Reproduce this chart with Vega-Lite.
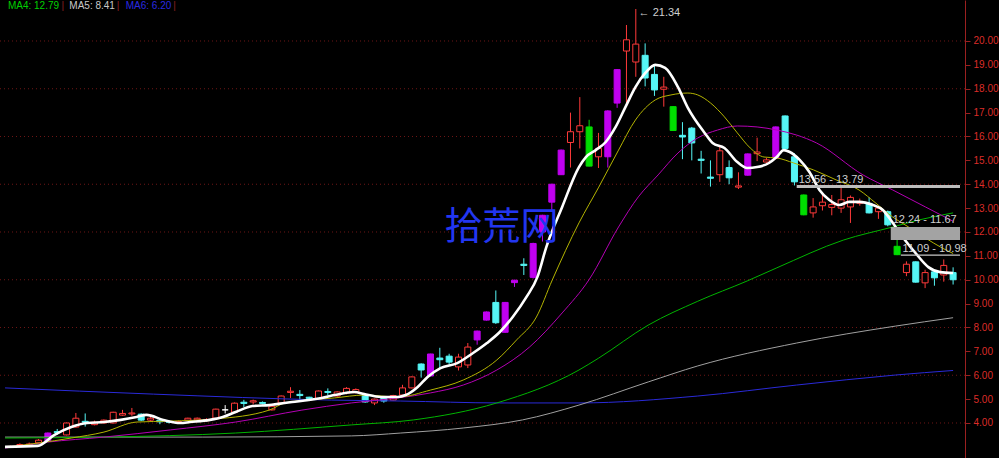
{
"$schema": "https://vega.github.io/schema/vega-lite/v6.json",
"width": 965, "height": 458,
"autosize": {"type": "none"},
"padding": {"left": 0, "top": 0, "right": 34, "bottom": 0},
"background": "#000000",
"config": {"view": {"stroke": null}},
"resolve": {"scale": {"color": "independent"}},
"datasets": {
"candles": [
{"d":0,"o":3.0,"c":3.02,"h":3.05,"l":2.98,"t":"u"},
{"d":1,"o":3.05,"c":3.1,"h":3.15,"l":3.02,"t":"u"},
{"d":2,"o":3.08,"c":3.12,"h":3.18,"l":3.05,"t":"u"},
{"d":3,"o":3.17,"c":3.28,"h":3.33,"l":3.15,"t":"u"},
{"d":4,"o":3.25,"c":3.58,"h":3.6,"l":3.24,"t":"p"},
{"d":5,"o":3.64,"c":3.6,"h":3.75,"l":3.5,"t":"d"},
{"d":6,"o":3.5,"c":4.0,"h":4.02,"l":3.48,"t":"u"},
{"d":7,"o":3.83,"c":4.2,"h":4.42,"l":3.8,"t":"u"},
{"d":8,"o":4.07,"c":4.03,"h":4.4,"l":3.85,"t":"d"},
{"d":9,"o":3.93,"c":4.03,"h":4.1,"l":3.9,"t":"u"},
{"d":10,"o":4.0,"c":4.12,"h":4.15,"l":3.98,"t":"u"},
{"d":11,"o":4.0,"c":4.45,"h":4.47,"l":3.98,"t":"u"},
{"d":12,"o":4.33,"c":4.4,"h":4.55,"l":4.3,"t":"u"},
{"d":13,"o":4.38,"c":4.42,"h":4.63,"l":4.3,"t":"u"},
{"d":14,"o":4.37,"c":4.12,"h":4.4,"l":4.08,"t":"d"},
{"d":15,"o":4.12,"c":4.2,"h":4.25,"l":4.08,"t":"u"},
{"d":16,"o":4.12,"c":4.05,"h":4.2,"l":3.95,"t":"d"},
{"d":17,"o":4.06,"c":4.03,"h":4.1,"l":3.98,"t":"d"},
{"d":18,"o":4.03,"c":4.06,"h":4.1,"l":4.0,"t":"u"},
{"d":19,"o":4.12,"c":4.2,"h":4.22,"l":4.1,"t":"u"},
{"d":20,"o":4.13,"c":4.2,"h":4.23,"l":4.1,"t":"u"},
{"d":21,"o":4.1,"c":4.15,"h":4.2,"l":4.05,"t":"u"},
{"d":22,"o":4.2,"c":4.58,"h":4.6,"l":4.18,"t":"u"},
{"d":23,"o":4.55,"c":4.55,"h":4.75,"l":4.4,"t":"w"},
{"d":24,"o":4.45,"c":4.83,"h":4.86,"l":4.43,"t":"u"},
{"d":25,"o":4.87,"c":4.82,"h":4.97,"l":4.67,"t":"d"},
{"d":26,"o":4.88,"c":4.93,"h":4.98,"l":4.78,"t":"u"},
{"d":27,"o":4.86,"c":4.82,"h":4.9,"l":4.78,"t":"d"},
{"d":28,"o":4.55,"c":4.7,"h":4.73,"l":4.52,"t":"u"},
{"d":29,"o":4.84,"c":5.13,"h":5.15,"l":4.8,"t":"u"},
{"d":30,"o":5.28,"c":5.33,"h":5.5,"l":5.05,"t":"u"},
{"d":31,"o":5.2,"c":5.15,"h":5.38,"l":4.9,"t":"d"},
{"d":32,"o":5.08,"c":5.03,"h":5.1,"l":4.98,"t":"d"},
{"d":33,"o":5.0,"c":5.34,"h":5.36,"l":4.98,"t":"u"},
{"d":34,"o":5.32,"c":5.28,"h":5.45,"l":5.15,"t":"d"},
{"d":35,"o":5.13,"c":5.3,"h":5.33,"l":5.1,"t":"u"},
{"d":36,"o":5.25,"c":5.45,"h":5.5,"l":5.2,"t":"u"},
{"d":37,"o":5.27,"c":5.4,"h":5.45,"l":5.25,"t":"u"},
{"d":38,"o":5.17,"c":4.88,"h":5.2,"l":4.85,"t":"d"},
{"d":39,"o":4.84,"c":5.0,"h":5.02,"l":4.75,"t":"u"},
{"d":40,"o":5.08,"c":4.92,"h":5.1,"l":4.85,"t":"d"},
{"d":41,"o":4.96,"c":5.15,"h":5.18,"l":4.94,"t":"u"},
{"d":42,"o":5.17,"c":5.47,"h":5.6,"l":5.15,"t":"u"},
{"d":43,"o":5.47,"c":5.93,"h":5.95,"l":5.45,"t":"u"},
{"d":44,"o":6.47,"c":6.22,"h":6.5,"l":5.9,"t":"d"},
{"d":45,"o":5.97,"c":6.89,"h":6.9,"l":5.95,"t":"p"},
{"d":46,"o":6.72,"c":6.65,"h":7.15,"l":6.3,"t":"d"},
{"d":47,"o":6.8,"c":6.55,"h":6.9,"l":6.45,"t":"d"},
{"d":48,"o":6.35,"c":6.76,"h":6.9,"l":6.2,"t":"u"},
{"d":49,"o":6.43,"c":7.18,"h":7.35,"l":6.3,"t":"u"},
{"d":50,"o":7.48,"c":7.85,"h":7.87,"l":7.28,"t":"p"},
{"d":51,"o":8.31,"c":8.65,"h":8.67,"l":8.29,"t":"p"},
{"d":52,"o":9.05,"c":8.2,"h":9.55,"l":8.15,"t":"d"},
{"d":53,"o":7.8,"c":9.05,"h":9.07,"l":7.78,"t":"p"},
{"d":54,"o":9.88,"c":9.98,"h":10.0,"l":9.7,"t":"p"},
{"d":55,"o":10.65,"c":10.6,"h":10.9,"l":10.2,"t":"d"},
{"d":56,"o":10.1,"c":11.52,"h":11.55,"l":10.05,"t":"p"},
{"d":57,"o":12.0,"c":12.7,"h":12.72,"l":11.6,"t":"p"},
{"d":58,"o":13.25,"c":14.0,"h":14.02,"l":12.9,"t":"p"},
{"d":59,"o":14.4,"c":15.43,"h":15.45,"l":14.4,"t":"p"},
{"d":60,"o":15.75,"c":16.2,"h":17.0,"l":14.7,"t":"u"},
{"d":61,"o":16.2,"c":16.45,"h":17.65,"l":15.5,"t":"u"},
{"d":62,"o":16.4,"c":14.76,"h":16.7,"l":14.75,"t":"g"},
{"d":63,"o":15.15,"c":15.5,"h":16.15,"l":14.68,"t":"u"},
{"d":64,"o":15.15,"c":17.07,"h":17.1,"l":14.7,"t":"p"},
{"d":65,"o":17.4,"c":18.8,"h":18.82,"l":17.2,"t":"p"},
{"d":66,"o":19.58,"c":20.05,"h":20.67,"l":17.4,"t":"u"},
{"d":67,"o":19.12,"c":19.87,"h":21.34,"l":18.5,"t":"u"},
{"d":68,"o":19.4,"c":18.45,"h":19.9,"l":18.1,"t":"d"},
{"d":69,"o":18.6,"c":17.95,"h":19.0,"l":17.7,"t":"d"},
{"d":70,"o":17.98,"c":18.07,"h":18.5,"l":17.25,"t":"u"},
{"d":71,"o":17.25,"c":16.25,"h":17.27,"l":16.23,"t":"g"},
{"d":72,"o":16.05,"c":15.98,"h":16.6,"l":15.05,"t":"d"},
{"d":73,"o":16.35,"c":15.73,"h":16.4,"l":15.0,"t":"d"},
{"d":74,"o":15.05,"c":15.0,"h":15.4,"l":14.45,"t":"d"},
{"d":75,"o":14.3,"c":14.25,"h":15.0,"l":13.9,"t":"d"},
{"d":76,"o":14.4,"c":15.4,"h":15.6,"l":14.1,"t":"u"},
{"d":77,"o":14.7,"c":14.27,"h":15.0,"l":14.0,"t":"d"},
{"d":78,"o":13.88,"c":13.93,"h":14.5,"l":13.8,"t":"u"},
{"d":79,"o":14.38,"c":15.27,"h":15.29,"l":14.36,"t":"p"},
{"d":80,"o":15.28,"c":15.35,"h":15.95,"l":14.97,"t":"u"},
{"d":81,"o":14.93,"c":15.02,"h":15.1,"l":14.9,"t":"u"},
{"d":82,"o":15.1,"c":16.4,"h":16.42,"l":15.08,"t":"p"},
{"d":83,"o":16.86,"c":15.5,"h":16.88,"l":15.45,"t":"d"},
{"d":84,"o":15.15,"c":14.1,"h":15.3,"l":13.95,"t":"d"},
{"d":85,"o":13.55,"c":12.72,"h":13.57,"l":12.7,"t":"g"},
{"d":86,"o":12.8,"c":13.05,"h":13.42,"l":12.6,"t":"u"},
{"d":87,"o":13.1,"c":13.25,"h":13.65,"l":12.9,"t":"u"},
{"d":88,"o":13.03,"c":13.15,"h":13.55,"l":12.7,"t":"u"},
{"d":89,"o":13.0,"c":13.35,"h":13.85,"l":12.8,"t":"u"},
{"d":90,"o":13.05,"c":13.45,"h":13.53,"l":12.38,"t":"u"},
{"d":91,"o":13.2,"c":13.28,"h":13.4,"l":13.1,"t":"u"},
{"d":92,"o":13.2,"c":12.8,"h":13.45,"l":12.78,"t":"d"},
{"d":93,"o":12.85,"c":13.0,"h":13.1,"l":12.55,"t":"u"},
{"d":94,"o":12.85,"c":12.3,"h":12.9,"l":12.24,"t":"d"},
{"d":95,"o":11.4,"c":11.05,"h":11.67,"l":11.03,"t":"g"},
{"d":96,"o":10.3,"c":10.65,"h":10.77,"l":10.15,"t":"u"},
{"d":97,"o":10.75,"c":9.9,"h":10.77,"l":9.88,"t":"d"},
{"d":98,"o":9.87,"c":10.3,"h":10.42,"l":9.65,"t":"u"},
{"d":99,"o":10.33,"c":10.08,"h":10.35,"l":9.75,"t":"d"},
{"d":100,"o":10.2,"c":10.6,"h":10.85,"l":9.92,"t":"u"},
{"d":101,"o":10.3,"c":10.0,"h":10.52,"l":9.8,"t":"d"}
],
"ma": [
{"s":"b","d":-0.59,"v":5.47},{"s":"b","d":15.31,"v":5.21},{"s":"b","d":34.4,"v":4.96},{"s":"b","d":41.82,"v":4.92},{"s":"b","d":52.43,"v":4.84},{"s":"b","d":60.91,"v":4.84},{"s":"b","d":73.64,"v":5.13},{"s":"b","d":84.24,"v":5.59},{"s":"b","d":94.85,"v":6.01},{"s":"b","d":101.0,"v":6.2},
{"s":"gr","d":-0.59,"v":3.41},{"s":"gr","d":20.6,"v":3.41},{"s":"gr","d":36.52,"v":3.46},{"s":"gr","d":41.82,"v":3.58},{"s":"gr","d":48.51,"v":3.79},{"s":"gr","d":54.87,"v":4.13},{"s":"gr","d":60.91,"v":4.75},{"s":"gr","d":68.33,"v":5.72},{"s":"gr","d":73.64,"v":6.39},{"s":"gr","d":84.24,"v":7.35},{"s":"gr","d":94.85,"v":8.06},{"s":"gr","d":101.0,"v":8.41},
{"s":"g","d":-0.59,"v":3.37},{"s":"g","d":10.01,"v":3.41},{"s":"g","d":24.12,"v":3.58},{"s":"g","d":36.52,"v":3.92},{"s":"g","d":43.2,"v":4.13},{"s":"g","d":52.11,"v":4.84},{"s":"g","d":60.91,"v":6.22},{"s":"g","d":63.03,"v":6.72},{"s":"g","d":68.33,"v":8.1},{"s":"g","d":73.64,"v":9.1},{"s":"g","d":78.94,"v":9.95},{"s":"g","d":82.12,"v":10.5},{"s":"g","d":89.23,"v":11.66},{"s":"g","d":94.53,"v":12.21},{"s":"g","d":97.29,"v":12.5},{"s":"g","d":101.0,"v":12.8},
{"s":"m","d":-0.59,"v":2.95},{"s":"m","d":3.97,"v":3.2},{"s":"m","d":10.01,"v":3.41},{"s":"m","d":17.12,"v":3.71},{"s":"m","d":24.12,"v":4.04},{"s":"m","d":31.22,"v":4.54},{"s":"m","d":36.52,"v":4.84},{"s":"m","d":41.51,"v":5.05},{"s":"m","d":45.01,"v":5.26},{"s":"m","d":48.51,"v":5.59},{"s":"m","d":52.11,"v":6.22},{"s":"m","d":55.61,"v":7.18},{"s":"m","d":59.11,"v":8.61},{"s":"m","d":61.97,"v":9.99},{"s":"m","d":65.15,"v":12.21},{"s":"m","d":67.27,"v":13.47},{"s":"m","d":69.39,"v":14.39},{"s":"m","d":71.52,"v":15.31},{"s":"m","d":73.64,"v":15.94},{"s":"m","d":75.76,"v":16.27},{"s":"m","d":77.88,"v":16.44},{"s":"m","d":80.0,"v":16.4},{"s":"m","d":82.12,"v":16.27},{"s":"m","d":84.24,"v":16.06},{"s":"m","d":86.36,"v":15.73},{"s":"m","d":91.35,"v":14.39},{"s":"m","d":94.53,"v":13.76},{"s":"m","d":98.03,"v":13.05},{"s":"m","d":101.0,"v":12.45},
{"s":"y","d":-0.59,"v":2.98},{"s":"y","d":6.51,"v":3.37},{"s":"y","d":10.01,"v":3.62},{"s":"y","d":13.51,"v":4.04},{"s":"y","d":17.12,"v":4.08},{"s":"y","d":21.99,"v":4.17},{"s":"y","d":27.72,"v":4.54},{"s":"y","d":29.42,"v":4.84},{"s":"y","d":34.72,"v":5.05},{"s":"y","d":37.9,"v":5.17},{"s":"y","d":41.51,"v":5.09},{"s":"y","d":45.01,"v":5.38},{"s":"y","d":48.51,"v":5.8},{"s":"y","d":52.11,"v":6.64},{"s":"y","d":54.23,"v":7.48},{"s":"y","d":56.35,"v":8.44},{"s":"y","d":58.05,"v":9.99},{"s":"y","d":60.91,"v":12.38},{"s":"y","d":63.03,"v":13.88},{"s":"y","d":65.15,"v":15.43},{"s":"y","d":66.96,"v":16.69},{"s":"y","d":69.08,"v":17.53},{"s":"y","d":70.77,"v":17.74},{"s":"y","d":72.58,"v":17.82},{"s":"y","d":73.64,"v":17.74},{"s":"y","d":75.02,"v":17.4},{"s":"y","d":76.5,"v":16.82},{"s":"y","d":77.88,"v":16.15},{"s":"y","d":79.26,"v":15.52},{"s":"y","d":80.74,"v":15.14},{"s":"y","d":82.12,"v":15.1},{"s":"y","d":83.92,"v":14.89},{"s":"y","d":86.04,"v":14.6},{"s":"y","d":88.48,"v":14.18},{"s":"y","d":90.92,"v":13.76},{"s":"y","d":92.72,"v":13.21},{"s":"y","d":94.52,"v":12.63},{"s":"y","d":96.22,"v":12.21},{"s":"y","d":98.03,"v":11.75},{"s":"y","d":99.83,"v":11.33},{"s":"y","d":101.0,"v":11.1}
],
"ma5": [
{"d":-0.59,"v":3.0},{"d":2.91,"v":3.04},{"d":4.71,"v":3.5},{"d":6.51,"v":3.83},{"d":8.21,"v":4.0},{"d":10.01,"v":4.04},{"d":11.81,"v":4.13},{"d":13.51,"v":4.25},{"d":14.57,"v":4.34},{"d":16.37,"v":4.13},{"d":18.18,"v":4.0},{"d":19.24,"v":4.04},{"d":21.36,"v":4.13},{"d":22.74,"v":4.25},{"d":24.12,"v":4.46},{"d":25.92,"v":4.71},{"d":27.72,"v":4.75},{"d":30.16,"v":4.88},{"d":31.96,"v":4.96},{"d":33.34,"v":5.05},{"d":34.72,"v":5.17},{"d":36.84,"v":5.3},{"d":37.9,"v":5.21},{"d":39.7,"v":5.09},{"d":41.51,"v":5.09},{"d":42.35,"v":5.17},{"d":43.63,"v":5.51},{"d":44.69,"v":5.93},{"d":46.07,"v":6.3},{"d":47.87,"v":6.51},{"d":49.56,"v":6.93},{"d":51.05,"v":7.35},{"d":52.43,"v":7.81},{"d":53.81,"v":8.44},{"d":55.29,"v":9.28},{"d":56.46,"v":10.12},{"d":57.41,"v":11.37},{"d":59.11,"v":13.05},{"d":60.91,"v":14.72},{"d":61.65,"v":15.14},{"d":62.71,"v":15.43},{"d":63.78,"v":15.77},{"d":64.84,"v":16.4},{"d":65.9,"v":17.24},{"d":66.96,"v":18.07},{"d":68.02,"v":18.66},{"d":69.08,"v":19.0},{"d":70.14,"v":18.87},{"d":71.52,"v":18.07},{"d":72.58,"v":17.2},{"d":74.38,"v":16.15},{"d":75.23,"v":15.73},{"d":76.5,"v":15.52},{"d":77.88,"v":14.93},{"d":78.94,"v":14.68},{"d":80.0,"v":14.72},{"d":81.27,"v":14.89},{"d":82.1,"v":15.14},{"d":82.86,"v":15.43},{"d":83.5,"v":15.35},{"d":84.56,"v":15.02},{"d":85.62,"v":14.5},{"d":86.68,"v":13.76},{"d":87.74,"v":13.34},{"d":88.8,"v":13.13},{"d":89.86,"v":13.26},{"d":90.92,"v":13.26},{"d":92.4,"v":13.13},{"d":93.47,"v":12.92},{"d":94.32,"v":12.5},{"d":95.59,"v":11.79},{"d":96.97,"v":11.12},{"d":98.35,"v":10.53},{"d":99.62,"v":10.32},{"d":101.0,"v":10.28}
],
"legend": [
{"k":"MA4","txt":"MA4: 12.79","d":-0.28},
{"k":"MA5","txt":"MA5: 8.41","d":6.3},
{"k":"MA6","txt":"MA6: 6.20","d":12.34},
{"k":"sep","txt":"|","d":5.45},
{"k":"sep","txt":"|","d":11.39},
{"k":"sep","txt":"|","d":17.43}
]
},
"layer": [
{
"data": {"values": [{"g":4},{"g":6},{"g":8},{"g":10},{"g":12},{"g":14},{"g":16},{"g":18},{"g":20}]},
"mark": {"type": "rule", "color": "#6e1616", "strokeDash": [1, 3], "strokeWidth": 1},
"encoding": {
"y": {"field": "g", "type": "quantitative", "scale": {"type": "linear", "domain": [2.534, 21.717], "nice": false, "zero": false},
"axis": {"orient": "right", "values": [4,5,6,7,8,9,10,11,12,13,14,15,16,17,18,19,20], "format": ".2f", "title": null, "grid": false, "labelColor": "#dc2c28", "labelFont": "Liberation Sans", "labelFontSize": 10, "labelPadding": 3, "labelBound": false, "labelOverlap": false, "labelFlush": false, "tickColor": "#9b2020", "tickSize": 5, "domainColor": "#9b2020", "domainWidth": 1}}
}
},
{
"data": {"name": "candles"},
"mark": {"type": "rule", "strokeWidth": 1},
"encoding": {
"x": {"field": "d", "type": "quantitative", "scale": {"type": "linear", "domain": [-0.594, 101.74], "nice": false, "zero": false}, "axis": null},
"y": {"field": "l", "type": "quantitative", "scale": {"type": "linear", "domain": [2.534, 21.717], "nice": false, "zero": false},
"axis": {"orient": "right", "values": [4,5,6,7,8,9,10,11,12,13,14,15,16,17,18,19,20], "format": ".2f", "title": null, "grid": false, "labelColor": "#dc2c28", "labelFont": "Liberation Sans", "labelFontSize": 10, "labelPadding": 3, "labelBound": false, "labelOverlap": false, "labelFlush": false, "tickColor": "#9b2020", "tickSize": 5, "domainColor": "#9b2020", "domainWidth": 1}},
"y2": {"field": "h"},
"stroke": {"field": "t", "type": "nominal", "scale": {"domain": ["u","d","p","g","w"], "range": ["#ff3a3a","#55f5f5","#c000f0","#00dd00","#ffffff"]}, "legend": null}
}
},
{
"data": {"name": "candles"},
"mark": {"type": "bar", "width": 6, "strokeWidth": 1},
"encoding": {
"x": {"field": "d", "type": "quantitative", "scale": {"type": "linear", "domain": [-0.594, 101.74], "nice": false, "zero": false}, "axis": null},
"y": {"field": "o", "type": "quantitative", "scale": {"type": "linear", "domain": [2.534, 21.717], "nice": false, "zero": false},
"axis": {"orient": "right", "values": [4,5,6,7,8,9,10,11,12,13,14,15,16,17,18,19,20], "format": ".2f", "title": null, "grid": false, "labelColor": "#dc2c28", "labelFont": "Liberation Sans", "labelFontSize": 10, "labelPadding": 3, "labelBound": false, "labelOverlap": false, "labelFlush": false, "tickColor": "#9b2020", "tickSize": 5, "domainColor": "#9b2020", "domainWidth": 1}},
"y2": {"field": "c"},
"stroke": {"field": "t", "type": "nominal", "scale": {"domain": ["u","d","p","g","w"], "range": ["#ff3a3a","#55f5f5","#c000f0","#00dd00","#ffffff"]}, "legend": null},
"fill": {"field": "t", "type": "nominal", "scale": {"domain": ["u","d","p","g","w"], "range": ["#000000","#55f5f5","#c000f0","#00dd00","#ffffff"]}, "legend": null}
}
},
{
"data": {"name": "ma"},
"mark": {"type": "line", "interpolate": "monotone", "strokeWidth": 1},
"encoding": {
"x": {"field": "d", "type": "quantitative", "scale": {"type": "linear", "domain": [-0.594, 101.74], "nice": false, "zero": false}, "axis": null},
"y": {"field": "v", "type": "quantitative", "scale": {"type": "linear", "domain": [2.534, 21.717], "nice": false, "zero": false},
"axis": {"orient": "right", "values": [4,5,6,7,8,9,10,11,12,13,14,15,16,17,18,19,20], "format": ".2f", "title": null, "grid": false, "labelColor": "#dc2c28", "labelFont": "Liberation Sans", "labelFontSize": 10, "labelPadding": 3, "labelBound": false, "labelOverlap": false, "labelFlush": false, "tickColor": "#9b2020", "tickSize": 5, "domainColor": "#9b2020", "domainWidth": 1}},
"color": {"field": "s", "type": "nominal", "scale": {"domain": ["b","gr","g","m","y"], "range": ["#2a2ad8","#a0a0a0","#00b400","#b400b4","#b4b400"]}, "legend": null}
}
},
{
"data": {"name": "ma5"},
"mark": {"type": "line", "interpolate": "monotone", "strokeWidth": 2.6, "color": "#ffffff"},
"encoding": {
"x": {"field": "d", "type": "quantitative", "scale": {"type": "linear", "domain": [-0.594, 101.74], "nice": false, "zero": false}, "axis": null},
"y": {"field": "v", "type": "quantitative", "scale": {"type": "linear", "domain": [2.534, 21.717], "nice": false, "zero": false},
"axis": {"orient": "right", "values": [4,5,6,7,8,9,10,11,12,13,14,15,16,17,18,19,20], "format": ".2f", "title": null, "grid": false, "labelColor": "#dc2c28", "labelFont": "Liberation Sans", "labelFontSize": 10, "labelPadding": 3, "labelBound": false, "labelOverlap": false, "labelFlush": false, "tickColor": "#9b2020", "tickSize": 5, "domainColor": "#9b2020", "domainWidth": 1}}
}
},
{
"data": {"values": [{"a": 84.24, "b": 13.84, "c": 13.97, "k": "g1"}, {"a": 94.32, "b": 11.66, "c": 12.21, "k": "g2"}, {"a": 95.4, "b": 11.0, "c": 11.06, "k": "g3"}]},
"mark": {"type": "rect"},
"encoding": {
"x": {"field": "a", "type": "quantitative", "scale": {"type": "linear", "domain": [-0.594, 101.74], "nice": false, "zero": false}, "axis": null},
"x2": {"datum": 101.74},
"y": {"field": "b", "type": "quantitative", "scale": {"type": "linear", "domain": [2.534, 21.717], "nice": false, "zero": false},
"axis": {"orient": "right", "values": [4,5,6,7,8,9,10,11,12,13,14,15,16,17,18,19,20], "format": ".2f", "title": null, "grid": false, "labelColor": "#dc2c28", "labelFont": "Liberation Sans", "labelFontSize": 10, "labelPadding": 3, "labelBound": false, "labelOverlap": false, "labelFlush": false, "tickColor": "#9b2020", "tickSize": 5, "domainColor": "#9b2020", "domainWidth": 1}},
"y2": {"field": "c"},
"color": {"field": "k", "type": "nominal", "scale": {"domain": ["g1","g2","g3"], "range": ["#bdbdbd","#a3a3a3","#c8c8c8"]}, "legend": null}
}
},
{
"data": {"values": [{"a": 84.45, "b": 14.18, "txt": "13.56 - 13.79"}, {"a": 94.53, "b": 12.5, "txt": "12.24 - 11.67"}, {"a": 95.59, "b": 11.29, "txt": "11.09 - 10.98"}, {"a": 67.3, "b": 21.17, "txt": "← 21.34"}]},
"mark": {"type": "text", "align": "left", "baseline": "middle", "font": "Liberation Sans", "fontSize": 11, "color": "#cfcfcf"},
"encoding": {
"x": {"field": "a", "type": "quantitative", "scale": {"type": "linear", "domain": [-0.594, 101.74], "nice": false, "zero": false}, "axis": null},
"y": {"field": "b", "type": "quantitative", "scale": {"type": "linear", "domain": [2.534, 21.717], "nice": false, "zero": false},
"axis": {"orient": "right", "values": [4,5,6,7,8,9,10,11,12,13,14,15,16,17,18,19,20], "format": ".2f", "title": null, "grid": false, "labelColor": "#dc2c28", "labelFont": "Liberation Sans", "labelFontSize": 10, "labelPadding": 3, "labelBound": false, "labelOverlap": false, "labelFlush": false, "tickColor": "#9b2020", "tickSize": 5, "domainColor": "#9b2020", "domainWidth": 1}},
"text": {"field": "txt"}
}
},
{
"data": {"name": "legend"},
"mark": {"type": "text", "align": "left", "baseline": "alphabetic", "font": "Liberation Sans", "fontSize": 10},
"encoding": {
"x": {"field": "d", "type": "quantitative", "scale": {"type": "linear", "domain": [-0.594, 101.74], "nice": false, "zero": false}, "axis": null},
"y": {"datum": 21.36, "type": "quantitative", "scale": {"type": "linear", "domain": [2.534, 21.717], "nice": false, "zero": false},
"axis": {"orient": "right", "values": [4,5,6,7,8,9,10,11,12,13,14,15,16,17,18,19,20], "format": ".2f", "title": null, "grid": false, "labelColor": "#dc2c28", "labelFont": "Liberation Sans", "labelFontSize": 10, "labelPadding": 3, "labelBound": false, "labelOverlap": false, "labelFlush": false, "tickColor": "#9b2020", "tickSize": 5, "domainColor": "#9b2020", "domainWidth": 1}},
"text": {"field": "txt"},
"color": {"field": "k", "type": "nominal", "scale": {"domain": ["MA4","MA5","MA6","sep"], "range": ["#00d000","#c8c8c8","#2a2ae0","#8b2020"]}, "legend": null}
}
},
{
"data": {"values": [{"a": 52.6, "b": 12.17, "txt": "拾荒网"}]},
"mark": {"type": "text", "align": "center", "baseline": "middle", "font": "Noto Sans CJK SC", "fontSize": 38, "color": "#2236f0"},
"encoding": {
"x": {"field": "a", "type": "quantitative", "scale": {"type": "linear", "domain": [-0.594, 101.74], "nice": false, "zero": false}, "axis": null},
"y": {"field": "b", "type": "quantitative", "scale": {"type": "linear", "domain": [2.534, 21.717], "nice": false, "zero": false},
"axis": {"orient": "right", "values": [4,5,6,7,8,9,10,11,12,13,14,15,16,17,18,19,20], "format": ".2f", "title": null, "grid": false, "labelColor": "#dc2c28", "labelFont": "Liberation Sans", "labelFontSize": 10, "labelPadding": 3, "labelBound": false, "labelOverlap": false, "labelFlush": false, "tickColor": "#9b2020", "tickSize": 5, "domainColor": "#9b2020", "domainWidth": 1}},
"text": {"field": "txt"}
}
}
]
}
